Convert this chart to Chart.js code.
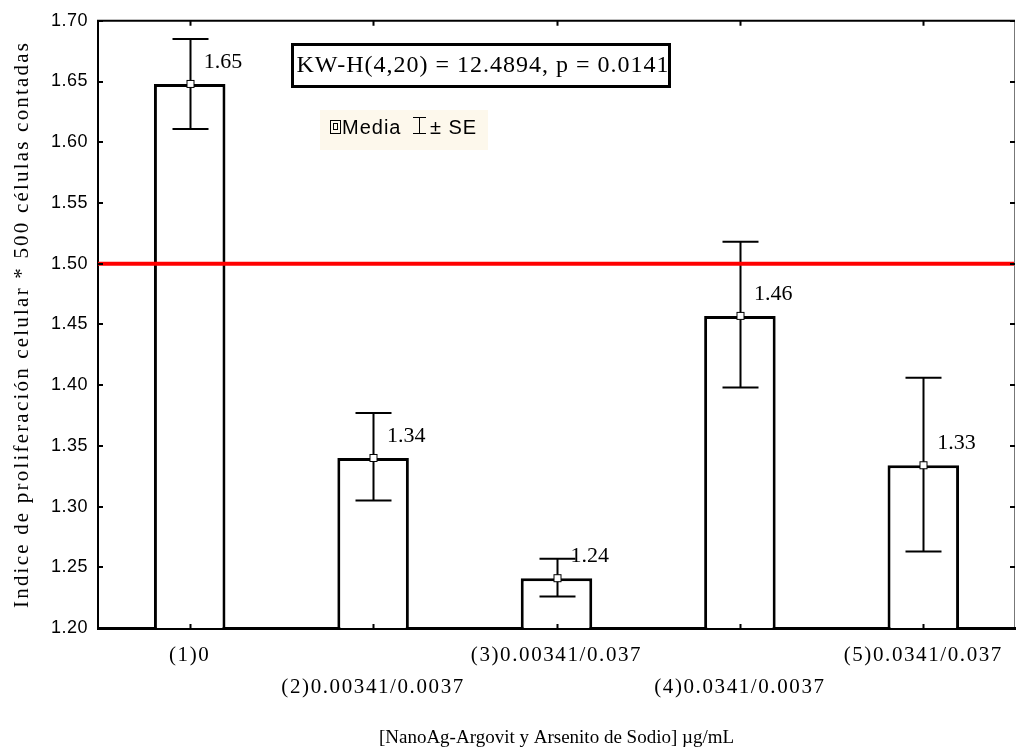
<!DOCTYPE html>
<html>
<head>
<meta charset="utf-8">
<script src="https://cdn.jsdelivr.net/npm/chart.js@4.4.1/dist/chart.umd.min.js"></script>
<style>
  html, body { margin: 0; padding: 0; background: #fff; }
  canvas { display: block; }
</style>
</head>
<body>
<canvas id="chart" width="1016" height="749"></canvas>
<script>
// ── data ─────────────────────────────────────────────
const categories = [
  ['(1)0'],
  ['', '(2)0.00341/0.0037'],
  ['(3)0.00341/0.037'],
  ['', '(4)0.0341/0.0037'],
  ['(5)0.0341/0.037']
];
const means      = [1.648, 1.340, 1.241, 1.457, 1.334];
const seUpper    = [1.685, 1.377, 1.257, 1.518, 1.406];
const seLower    = [1.611, 1.305, 1.226, 1.398, 1.263];
const meanLabels = ['1.65', '1.34', '1.24', '1.46', '1.33'];
const yTicks     = [1.20, 1.25, 1.30, 1.35, 1.40, 1.45, 1.50, 1.55, 1.60, 1.65, 1.70];
const refLine    = 1.50;
const statText   = 'KW-H(4,20) = 12.4894, p = 0.0141';
const yTitle     = 'Indice de proliferación celular * 500 células contadas';
const xTitle     = '[NanoAg-Argovit y Arsenito de Sodio] µg/mL';

const SERIF = '"Liberation Serif", "Times New Roman", serif';
const SANS  = '"Liberation Sans", Arial, sans-serif';

// letter spacing per scale part (Statistica-style spaced text)
const spacing = {
  x: { labels: '1.6px', title: '0px' },
  y: { labels: '0.5px', title: '2.2px' }
};

const spacedText = {
  id: 'spacedText',
  beforeDraw(chart) {
    Object.values(chart.scales).forEach(s => {
      if (s._spaced || !spacing[s.id]) return;
      s._spaced = true;
      const sp = spacing[s.id];
      const dl = s.drawLabels, dt = s.drawTitle;
      s.drawLabels = function (area) {
        this.ctx.save(); this.ctx.letterSpacing = sp.labels;
        dl.call(this, area);
        this.ctx.restore();
      };
      s.drawTitle = function () {
        this.ctx.save(); this.ctx.letterSpacing = sp.title;
        dt.call(this);
        this.ctx.restore();
      };
    });
  }
};

// ── overlay: error bars, labels, ref line, frame, ticks, box, legend ──
const overlay = {
  id: 'overlay',
  afterDatasetsDraw(chart) {
    const { ctx, chartArea: a, scales: { x, y } } = chart;
    ctx.save();
    ctx.letterSpacing = '0px';

    // error bars + mean markers
    means.forEach((m, i) => {
      const cx = Math.round(x.getPixelForValue(i)) + 0.5;
      const yt = y.getPixelForValue(seUpper[i]);
      const yb = y.getPixelForValue(seLower[i]);
      const ym = y.getPixelForValue(m);
      ctx.strokeStyle = '#000';
      ctx.lineWidth = 2;
      ctx.beginPath();
      ctx.moveTo(cx, yt); ctx.lineTo(cx, yb);
      ctx.moveTo(cx - 18, yt); ctx.lineTo(cx + 18, yt);
      ctx.moveTo(cx - 18, yb); ctx.lineTo(cx + 18, yb);
      ctx.stroke();
      ctx.fillStyle = '#fff';
      ctx.lineWidth = 1;
      ctx.fillRect(cx - 3.5, ym - 3.5, 7, 7);
      ctx.strokeRect(cx - 3.5, ym - 3.5, 7, 7);
    });

    // reference line
    const yr = y.getPixelForValue(refLine);
    ctx.strokeStyle = '#ff0000';
    ctx.lineWidth = 4;
    ctx.beginPath();
    ctx.moveTo(a.left, yr); ctx.lineTo(a.right, yr);
    ctx.stroke();

    // mean labels
    ctx.fillStyle = '#000';
    ctx.font = '22px ' + SERIF;
    ctx.textAlign = 'left';
    ctx.textBaseline = 'middle';
    means.forEach((m, i) => {
      ctx.fillText(meanLabels[i], x.getPixelForValue(i) + 14, y.getPixelForValue(m) - 22);
    });

    // frame: top black, right thin grey
    ctx.strokeStyle = '#000';
    ctx.lineWidth = 2;
    ctx.beginPath();
    ctx.moveTo(a.left - 1, a.top); ctx.lineTo(a.right, a.top);
    ctx.stroke();
    ctx.strokeStyle = '#777';
    ctx.lineWidth = 1;
    ctx.beginPath();
    ctx.moveTo(a.right - 0.5, a.top); ctx.lineTo(a.right - 0.5, a.bottom);
    ctx.stroke();

    // inward tick marks
    ctx.strokeStyle = '#000';
    ctx.lineWidth = 2;
    ctx.beginPath();
    y.ticks.forEach(t => {
      const py = Math.round(y.getPixelForValue(t.value));
      ctx.moveTo(a.left, py); ctx.lineTo(a.left + 5, py);
      ctx.moveTo(a.right, py); ctx.lineTo(a.right - 5, py);
    });
    x.ticks.forEach((t, i) => {
      const px = Math.round(x.getPixelForValue(i)) + 0.5;
      ctx.moveTo(px, a.top); ctx.lineTo(px, a.top + 5);
      ctx.moveTo(px, a.bottom); ctx.lineTo(px, a.bottom - 4);
    });
    ctx.stroke();

    // stat box
    ctx.lineWidth = 3;
    ctx.strokeRect(292.5, 44.5, 377, 42);
    ctx.font = '24px ' + SERIF;
    ctx.letterSpacing = '1px';
    ctx.textAlign = 'center';
    ctx.fillText(statText, 483, 66);

    // legend
    ctx.fillStyle = '#fdf8ec';
    ctx.fillRect(320, 110, 168, 40);
    ctx.strokeStyle = '#000';
    ctx.lineWidth = 1;
    ctx.strokeRect(330.5, 120.5, 10, 13);
    ctx.strokeRect(333.5, 123.5, 4, 6);
    ctx.beginPath();
    ctx.moveTo(419.5, 117); ctx.lineTo(419.5, 134);
    ctx.moveTo(413, 117.5); ctx.lineTo(426, 117.5);
    ctx.moveTo(413, 133.5); ctx.lineTo(426, 133.5);
    ctx.stroke();
    ctx.fillStyle = '#000';
    ctx.font = '20px ' + SANS;
    ctx.letterSpacing = '1px';
    ctx.textAlign = 'left';
    ctx.fillText('Media', 342, 128);
    ctx.fillText('± SE', 430, 128);

    ctx.restore();
  }
};

new Chart(document.getElementById('chart'), {
  type: 'bar',
  data: {
    labels: categories,
    datasets: [{
      data: means,
      backgroundColor: '#fff',
      borderColor: '#000',
      borderWidth: 3,
      borderSkipped: 'bottom',
      categoryPercentage: 1,
      barPercentage: 0.39
    }]
  },
  options: {
    responsive: false,
    devicePixelRatio: 1,
    animation: false,
    layout: { padding: { top: 20, right: 1, left: 0, bottom: 0 } },
    plugins: { legend: { display: false }, tooltip: { enabled: false } },
    scales: {
      x: {
        grid: { display: false },
        border: { display: true, color: '#000', width: 3 },
        ticks: {
          color: '#000',
          font: { family: SERIF, size: 21, lineHeight: 1.55 },
          padding: 3,
          maxRotation: 0,
          autoSkip: false
        },
        title: {
          display: true,
          text: xTitle,
          color: '#000',
          font: { family: SERIF, size: 19 },
          padding: { top: 16, bottom: 0 }
        },
        afterFit: s => { s.height = 121; }
      },
      y: {
        min: 1.2,
        max: 1.7,
        grid: { display: false, drawTicks: false },
        border: { display: true, color: '#000', width: 2 },
        afterBuildTicks: s => { s.ticks = yTicks.map(v => ({ value: v })); },
        ticks: {
          color: '#000',
          font: { family: SANS, size: 18 },
          padding: 10,
          callback: v => Number(v).toFixed(2)
        },
        title: {
          display: true,
          text: yTitle,
          color: '#000',
          font: { family: SERIF, size: 21 },
          padding: { top: 10, bottom: 0 }
        },
        afterFit: s => { s.width = 98; }
      }
    }
  },
  plugins: [spacedText, overlay]
});
</script>
</body>
</html>
